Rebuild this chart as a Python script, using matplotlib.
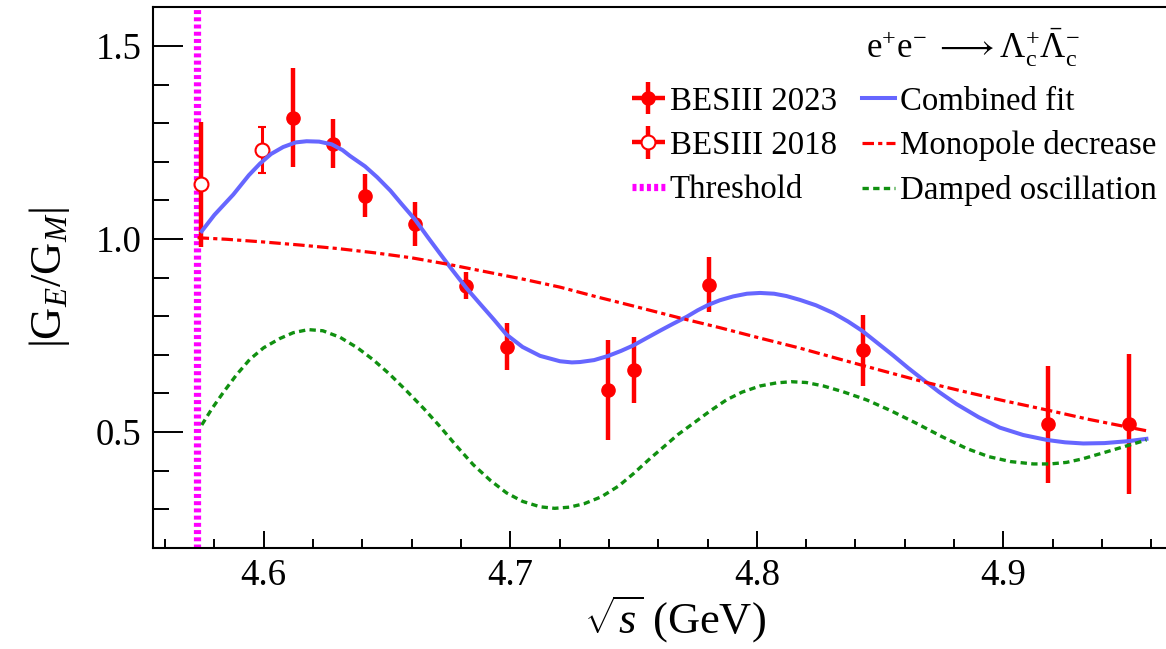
import matplotlib
matplotlib.use("Agg")
import matplotlib.pyplot as plt
from matplotlib.ticker import MultipleLocator

plt.rcParams["font.family"] = "serif"
plt.rcParams["font.serif"] = ["Liberation Serif", "DejaVu Serif"]
plt.rcParams["mathtext.fontset"] = "custom"
plt.rcParams["mathtext.rm"] = "Liberation Serif"
plt.rcParams["mathtext.it"] = "Liberation Serif:italic"
plt.rcParams["mathtext.bf"] = "Liberation Serif:bold"

# BESIII 2023 points
e23 = [4.6119, 4.6280, 4.6409, 4.6612, 4.6819, 4.6988, 4.7397, 4.7500, 4.7805, 4.8431, 4.9180, 4.9509]
r23 = [1.314, 1.247, 1.112, 1.039, 0.879, 0.721, 0.609, 0.661, 0.881, 0.711, 0.520, 0.520]
r23_err = [0.129, 0.063, 0.056, 0.057, 0.035, 0.060, 0.130, 0.086, 0.071, 0.092, 0.152, 0.181]

# BESIII 2018 points
e18 = [4.5745, 4.5995]
r18 = [1.141, 1.230]
r18_err = [0.162, 0.060]

threshold = 4.5729

# curves
fit_x = [4.5749, 4.5800, 4.5877, 4.5940, 4.5985, 4.6030, 4.6079, 4.6130, 4.6174, 4.6225,
         4.6276, 4.6320, 4.6350, 4.6411, 4.6460, 4.6514, 4.6560, 4.6614, 4.6665, 4.6715,
         4.6762, 4.6823, 4.6880, 4.6935, 4.6985, 4.7050, 4.7121, 4.7202, 4.7250, 4.7283,
         4.7340, 4.7398, 4.7450, 4.7499, 4.7550, 4.7607, 4.7660, 4.7715, 4.7760, 4.7803,
         4.7850, 4.7904, 4.7960, 4.8013, 4.8070, 4.8120, 4.8175, 4.8240, 4.8310, 4.8370,
         4.8427, 4.8490, 4.8553, 4.8615, 4.8675, 4.8740, 4.8810, 4.8900, 4.8986, 4.9080,
         4.9178, 4.9250, 4.9324, 4.9410, 4.9506, 4.9580]
fit_y = [1.020, 1.062, 1.115, 1.165, 1.195, 1.220, 1.238, 1.250, 1.253, 1.252,
         1.245, 1.230, 1.215, 1.188, 1.160, 1.125, 1.090, 1.050, 1.005, 0.962,
         0.922, 0.872, 0.830, 0.790, 0.752, 0.720, 0.697, 0.683, 0.680, 0.681,
         0.686, 0.697, 0.710, 0.724, 0.742, 0.762, 0.780, 0.798, 0.815, 0.829,
         0.841, 0.851, 0.858, 0.860, 0.858, 0.852, 0.842, 0.828, 0.808, 0.786,
         0.762, 0.730, 0.698, 0.665, 0.635, 0.603, 0.572, 0.538, 0.511, 0.492,
         0.479, 0.473, 0.470, 0.471, 0.476, 0.482]

mono_x = [4.5732, 4.5850, 4.6000, 4.6150, 4.6300, 4.6450, 4.6600, 4.6750, 4.6900, 4.7050,
          4.7202, 4.7350, 4.7500, 4.7689, 4.7850, 4.8013, 4.8175, 4.8350, 4.8500, 4.8675,
          4.8850, 4.9000, 4.9175, 4.9350, 4.9580]
mono_y = [1.003, 0.999, 0.992, 0.984, 0.975, 0.964, 0.951, 0.934, 0.915, 0.896,
          0.875, 0.850, 0.826, 0.795, 0.770, 0.743, 0.717, 0.686, 0.660, 0.630,
          0.603, 0.581, 0.557, 0.532, 0.503]

osc_x = [4.5749, 4.5790, 4.5836, 4.5890, 4.5944, 4.6000, 4.6066, 4.6120, 4.6181, 4.6240,
         4.6310, 4.6380, 4.6444, 4.6510, 4.6580, 4.6650, 4.6715, 4.6780, 4.6850, 4.6920,
         4.6985, 4.7050, 4.7121, 4.7180, 4.7240, 4.7300, 4.7370, 4.7440, 4.7500, 4.7567,
         4.7620, 4.7680, 4.7742, 4.7810, 4.7877, 4.7940, 4.8013, 4.8080, 4.8140, 4.8200,
         4.8270, 4.8350, 4.8445, 4.8540, 4.8648, 4.8750, 4.8851, 4.8940, 4.9030, 4.9121,
         4.9190, 4.9256, 4.9320, 4.9390, 4.9480, 4.9580]
osc_y = [0.518, 0.560, 0.602, 0.648, 0.688, 0.718, 0.742, 0.757, 0.765, 0.762,
         0.745, 0.718, 0.687, 0.650, 0.606, 0.560, 0.514, 0.465, 0.415, 0.374,
         0.342, 0.320, 0.306, 0.302, 0.305, 0.314, 0.332, 0.360, 0.392, 0.431,
         0.460, 0.493, 0.522, 0.554, 0.583, 0.603, 0.619, 0.627, 0.630, 0.628,
         0.619, 0.604, 0.583, 0.556, 0.522, 0.488, 0.457, 0.436, 0.423, 0.417,
         0.417, 0.421, 0.430, 0.443, 0.460, 0.479]

W, H = 1166, 649
fig = plt.figure(figsize=(W / 100, H / 100), dpi=100)
ax = fig.add_axes([152.7 / W, 1 - 547.7 / H, (1176 - 152.7) / W, (547.7 - 7.3) / H])

red = "#ff0000"
ax.axvline(threshold, color="#ff00ff", lw=5.2, linestyle=(0, (0.55, 0.45)), zorder=2,
           label="Threshold")

ax.errorbar(e23, r23, yerr=r23_err, xerr=[0] * len(e23), fmt="o", color=red,
            ms=9.5, elinewidth=3.2, capsize=0, zorder=3, label="BESIII 2023")
ax.errorbar(e18[:1], r18[:1], yerr=r18_err[:1], xerr=[0], fmt="o", color=red,
            mfc="white", mec=red, mew=1.5, ms=10, elinewidth=3.2, capsize=0,
            zorder=3, label="BESIII 2018")
ax.errorbar(e18[1:], r18[1:], yerr=r18_err[1:], fmt="o", color=red, mfc="white", mec=red,
            mew=1.5, ms=10, elinewidth=2.2, capsize=3, capthick=2.2, zorder=3)

ax.plot(fit_x, fit_y, color="#6666ff", lw=2.9, zorder=4, label="Combined fit")
ax.plot(mono_x, mono_y, color=red, lw=2.3, linestyle=(0, (3.6, 1.3, 1.3, 1.3)), zorder=4,
        label="Monopole decrease")
ax.plot(osc_x, osc_y, color="#109010", lw=2.4, linestyle=(0, (1.9, 1.3)), zorder=4,
        label="Damped oscillation")

ax.set_xlim(4.555, 4.97)
ax.set_ylim(0.2, 1.6)
ax.xaxis.set_minor_locator(MultipleLocator(0.02))
ax.yaxis.set_minor_locator(MultipleLocator(0.1))
ax.set_xticks([4.6, 4.7, 4.8, 4.9])
ax.set_xticklabels(["4.6", "4.7", "4.8", "4.9"])
ax.set_yticks([0.5, 1.0, 1.5])
ax.set_yticklabels(["0.5", "1.0", "1.5"])

for s in ax.spines.values():
    s.set_linewidth(1.5)
ax.tick_params(axis="both", which="both", direction="in", width=1.4, top=False, right=False,
               labelsize=26.5, pad=8)
ax.tick_params(axis="x", which="major", length=12.2)
ax.tick_params(axis="x", which="minor", length=6.5)
ax.tick_params(axis="y", which="major", length=21.6)
ax.tick_params(axis="y", which="minor", length=11.3)

ax.set_xlabel(r"$\sqrt{s}$ (GeV)", fontsize=32)
ax.xaxis.set_label_coords(0.51, -0.085)
ax.set_ylabel(r"$|\mathrm{G}_{E}/\mathrm{G}_{M}|$", fontsize=32)
ax.yaxis.set_label_coords(-0.079, 0.5)

handles, labels = ax.get_legend_handles_labels()
order = ["BESIII 2023", "BESIII 2018", "Threshold", "Combined fit", "Monopole decrease",
         "Damped oscillation"]
hd = dict(zip(labels, handles))
leg = ax.legend([hd[k] for k in order], order, ncol=2, frameon=False, fontsize=23.7,
                loc="upper left", bbox_to_anchor=(632 / W, 1 - 86 / H),
                bbox_transform=fig.transFigure, handlelength=1.0, handletextpad=0.15,
                columnspacing=0.76, labelspacing=0.42, borderpad=0, borderaxespad=0)

fig.text(866 / W, 1 - 48 / H,
         r"$\mathrm{e^{+}e^{-}}\ \longrightarrow \mathrm{\Lambda_{c}^{+}\bar{\Lambda}_{c}^{-}}$",
         fontsize=25, ha="left", va="center")

fig.savefig("out.png", dpi=100)
